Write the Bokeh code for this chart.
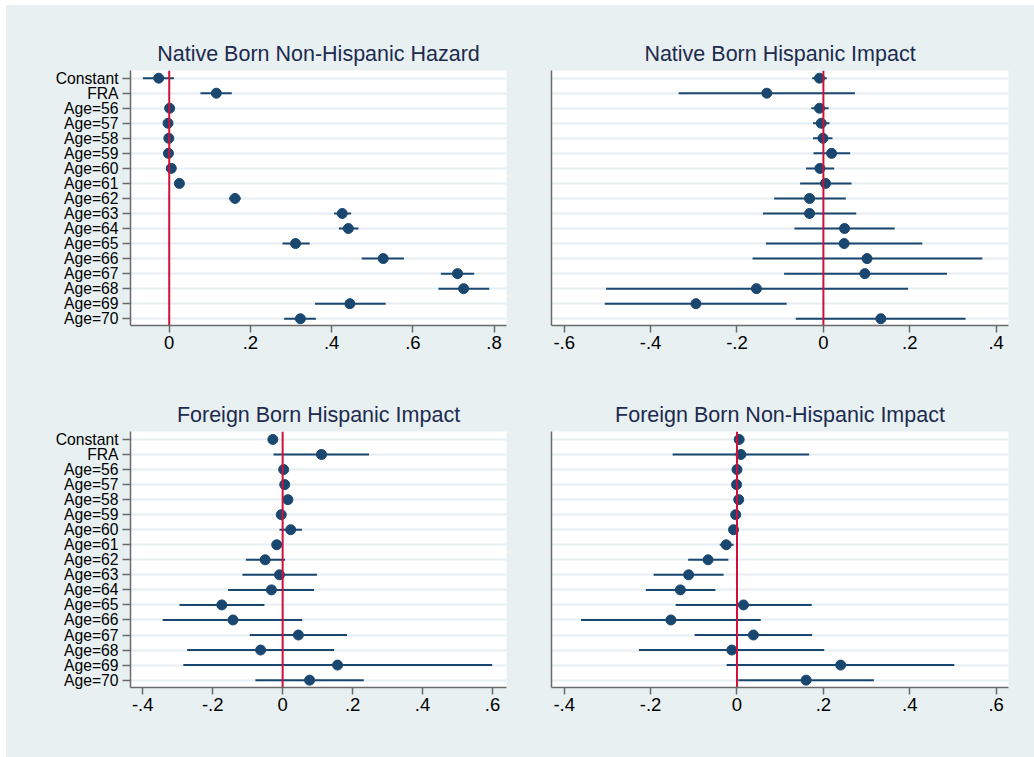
from bokeh.plotting import figure
from bokeh.layouts import gridplot
from bokeh.models import Range1d, FixedTicker, Span, CustomJSTickFormatter, ColumnDataSource
from bokeh.embed import file_html
from bokeh.resources import INLINE

labels = ["Constant", "FRA", "Age=56", "Age=57", "Age=58", "Age=59", "Age=60",
          "Age=61", "Age=62", "Age=63", "Age=64", "Age=65", "Age=66", "Age=67",
          "Age=68", "Age=69", "Age=70"]

# Native Born Non-Hispanic Hazard
nbnh_coef = [-0.026, 0.116, 0.001, -0.003, -0.001, -0.002, 0.005, 0.025, 0.162,
             0.426, 0.441, 0.311, 0.527, 0.710, 0.725, 0.445, 0.323]
nbnh_lo = [-0.065, 0.077, -0.002, -0.006, -0.004, -0.005, 0.001, 0.021, 0.147,
           0.406, 0.418, 0.279, 0.474, 0.669, 0.663, 0.359, 0.283]
nbnh_hi = [0.0115, 0.154, 0.004, 0.000, 0.002, 0.001, 0.009, 0.029, 0.176,
           0.448, 0.466, 0.346, 0.578, 0.751, 0.788, 0.533, 0.361]

# Native Born Hispanic Impact
nbh_coef = [-0.009, -0.131, -0.009, -0.005, -0.001, 0.019, -0.008, 0.005, -0.032,
            -0.032, 0.049, 0.048, 0.101, 0.096, -0.155, -0.295, 0.133]
nbh_lo = [-0.026, -0.335, -0.028, -0.024, -0.024, -0.023, -0.040, -0.054, -0.114,
          -0.140, -0.067, -0.133, -0.164, -0.091, -0.503, -0.506, -0.064]
nbh_hi = [0.008, 0.073, 0.012, 0.014, 0.021, 0.062, 0.025, 0.065, 0.052,
          0.076, 0.165, 0.229, 0.368, 0.286, 0.196, -0.085, 0.329]

# Foreign Born Hispanic Impact
fbh_coef = [-0.028, 0.111, 0.003, 0.006, 0.015, -0.004, 0.023, -0.017, -0.050,
            -0.009, -0.032, -0.174, -0.142, 0.045, -0.063, 0.157, 0.077]
fbh_lo = [-0.031, -0.026, 0.000, 0.003, 0.012, -0.007, -0.009, -0.021, -0.105,
          -0.115, -0.156, -0.295, -0.343, -0.094, -0.273, -0.284, -0.078]
fbh_hi = [-0.025, 0.247, 0.006, 0.009, 0.018, -0.001, 0.055, -0.013, 0.007,
          0.098, 0.090, -0.052, 0.056, 0.184, 0.147, 0.599, 0.232]

# Foreign Born Non-Hispanic Impact
fbnh_coef = [0.005, 0.009, 0.000, -0.001, 0.004, -0.003, -0.008, -0.025, -0.067,
             -0.112, -0.131, 0.015, -0.153, 0.038, -0.012, 0.240, 0.160]
fbnh_lo = [0.002, -0.149, -0.003, -0.004, 0.001, -0.006, -0.011, -0.040, -0.113,
           -0.193, -0.211, -0.142, -0.361, -0.098, -0.227, -0.024, 0.003]
fbnh_hi = [0.008, 0.167, 0.003, 0.002, 0.007, 0.000, -0.005, -0.008, -0.020,
           -0.031, -0.050, 0.173, 0.055, 0.174, 0.202, 0.503, 0.317]

BG = "#e8f0f2"
NAVY = "#1a476f"
TITLE = "#1c2b4e"
AXIS = "#6a6a6a"
GRID = "#e6eef1"
RED = "#d0103a"
FONT = "Liberation Sans"

fmt = CustomJSTickFormatter(code="""
if (Math.abs(tick) < 1e-9) { return "0"; }
var s = tick.toFixed(1);
s = s.replace(/^(-?)0\\./, '$1.');
return s;
""")


def panel(title, coef, lo, hi, xr, xticks, show_labels, width, height,
          bl, br, bt, bb, yr):
    p = figure(width=width, height=height, output_backend="svg",
               toolbar_location=None, x_range=Range1d(*xr),
               y_range=Range1d(*yr), min_border_left=bl, min_border_right=br,
               min_border_top=bt, min_border_bottom=bb)
    p.border_fill_color = BG
    p.background_fill_color = "white"
    p.outline_line_color = None

    p.title.text = title
    p.title.align = "center"
    p.title.text_font = FONT
    p.title.text_font_size = "21.5px"
    p.title.text_font_style = "normal"
    p.title.text_color = TITLE

    ys = list(range(1, len(labels) + 1))
    src = ColumnDataSource(dict(y=ys, coef=coef, lo=lo, hi=hi))

    p.xgrid.visible = False
    p.ygrid.ticker = FixedTicker(ticks=ys)
    p.ygrid.grid_line_color = GRID
    p.ygrid.grid_line_width = 2

    p.segment(x0="lo", y0="y", x1="hi", y1="y", source=src,
              line_color=NAVY, line_width=2)
    vline = Span(location=0, dimension="height", line_color=RED,
                 line_width=2, level="glyph")
    p.add_layout(vline)
    p.scatter(x="coef", y="y", source=src, size=10, fill_color=NAVY,
              line_color=NAVY)

    p.xaxis.ticker = FixedTicker(ticks=xticks)
    p.xaxis.formatter = fmt
    p.xaxis.major_label_text_font = FONT
    p.xaxis.major_label_text_font_size = "18.5px"
    p.xaxis.major_label_text_color = "black"
    p.xaxis.major_label_standoff = 3
    p.xaxis.major_tick_in = 0
    p.xaxis.major_tick_out = 7

    if show_labels:
        p.yaxis.ticker = FixedTicker(ticks=ys)
        p.yaxis.major_label_overrides = {i + 1: lab for i, lab in enumerate(labels)}
        p.yaxis.major_label_text_font = FONT
        p.yaxis.major_label_text_font_size = "15.7px"
        p.yaxis.major_label_text_color = "black"
        p.yaxis.major_label_standoff = 4
        p.yaxis.major_tick_out = 8
    else:
        p.yaxis.ticker = FixedTicker(ticks=[])
        p.yaxis.major_tick_out = 0
    p.yaxis.major_tick_in = 0

    for ax in (p.xaxis, p.yaxis):
        ax.axis_line_color = AXIS
        ax.axis_line_width = 1.5
        ax.major_tick_line_color = AXIS
        ax.major_tick_line_width = 1.5
        ax.minor_tick_line_color = None
    return p


p1 = panel("Native Born Non-Hispanic Hazard", nbnh_coef, nbnh_lo, nbnh_hi,
           (-0.0954, 0.8306), [0, 0.2, 0.4, 0.6, 0.8], True,
           514, 375, 124, 14, 65, 55, (17.45, 0.49))
p2 = panel("Native Born Hispanic Impact", nbh_coef, nbh_lo, nbh_hi,
           (-0.6294, 0.4285), [-0.6, -0.4, -0.2, 0, 0.2, 0.4], False,
           514, 375, 31, 26, 65, 55, (17.45, 0.49))
p3 = panel("Foreign Born Hispanic Impact", fbh_coef, fbh_lo, fbh_hi,
           (-0.435, 0.640), [-0.4, -0.2, 0, 0.2, 0.4, 0.6], True,
           514, 377, 124, 14, 51, 70, (17.49, 0.47))
p4 = panel("Foreign Born Non-Hispanic Impact", fbnh_coef, fbnh_lo, fbnh_hi,
           (-0.4294, 0.6285), [-0.4, -0.2, 0, 0.2, 0.4, 0.6], False,
           514, 377, 31, 26, 51, 70, (17.49, 0.47))

grid = gridplot([[p1, p2], [p3, p4]], toolbar_location=None)
grid.margin = (5, 0, 0, 6)
grid.styles = {"background-color": BG}

open("out.html", "w").write(file_html(grid, INLINE))
